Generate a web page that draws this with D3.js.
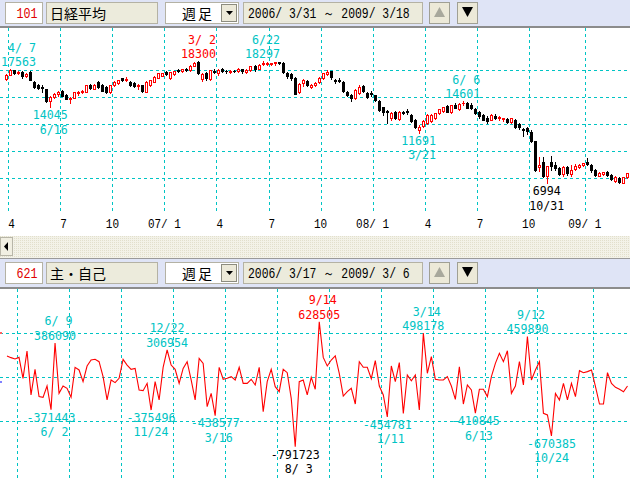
<!DOCTYPE html>
<html><head><meta charset="utf-8">
<script src="https://cdn.jsdelivr.net/npm/d3@7"></script>
<style>
body{margin:0;background:#fff;}
svg{display:block;}
text{white-space:pre;}
</style></head><body>
<svg id="c" width="630" height="478"></svg>
<script>
// ---------- DATA ----------
const topStart = "2006-03-31";
const flowStart = "2006-03-17";
const weekEndFix = {"2009-01-02": "2008-12-30"};

const open = [16650,17060,17470,17200,17330,16950,17290,16420,16150,15950,
15700,14600,15000,15250,15550,15200,14800,14950,15400,15450,
15500,16100,15750,16350,16100,15950,15450,16100,16270,16720,
16600,16420,16300,16000,16100,15500,16100,16420,16800,16950,
17350,16800,17100,17480,17450,17560,17500,17900,18200,16700,
17250,16650,17450,17250,17550,17400,17300,17420,17400,17550,
17350,17500,17900,17600,18050,18100,18100,18150,18250,18150,
17250,17100,16800,15500,16300,16500,15950,16100,16350,16800,
17150,17400,16550,16600,16400,15500,15200,14900,15400,16000,
15350,15350,15150,14600,14050,13700,13050,13650,12950,13600,
13700,13300,12900,11900,12300,12600,12800,13100,13500,13700,
14200,13600,14300,13900,14400,14450,14300,13900,13600,13300,
13100,12900,13200,13050,12950,13000,12650,12900,12500,12000,
12100,11800,10900,8500,9000,7650,8950,8700,8400,7900,
8500,7900,8300,8550,8700,9000,8750,8250,7700,7850,
8100,7800,7230,7500,7050,7550];
const high = [17120,17563,17500,17420,17380,17200,17400,16450,16250,16100,
15750,15100,15400,15550,15650,15300,15000,15500,15560,15650,
16150,16200,16200,16450,16200,16050,16150,16450,16600,16800,
16850,16500,16350,16250,16150,16450,16600,16950,17250,17250,
17400,17350,17400,17550,17600,17650,17950,18250,18300,17250,
17350,17500,17550,17550,17650,17500,17500,17500,17700,17600,
17550,17900,18000,18100,18297,18200,18160,18262,18270,18200,
17300,17200,16850,16300,16650,16600,16200,16400,16850,17250,
17488,17450,16700,16750,16450,15600,15250,15740,16100,16150,
15450,15600,15200,14700,14100,13800,13650,13750,13750,13750,
13900,13400,12950,12400,12900,13400,13400,13500,13900,14100,
14250,14300,14400,14450,14601,14500,14400,14000,13700,13400,
13200,13400,13400,13250,13100,13100,13100,13000,12550,12100,
12200,11900,10950,9447,9400,8600,9521,8950,8500,8600,
8600,8700,8800,8800,8900,9325,8800,8350,8100,8100,
8150,7850,7700,7600,7600,7970];
const low = [16560,17000,17150,17100,16750,16850,16550,15850,15700,15450,
14550,14045,14900,15100,15050,14800,14437,14900,15150,15350,
15450,15750,15700,15850,15550,15400,15400,16050,16200,16500,
16500,16050,15950,15750,15500,15450,16050,16350,16750,16900,
17000,16700,17000,17300,17350,17400,17450,17850,17100,16450,
16600,16600,17200,17050,17300,17200,17250,17300,17350,17200,
17250,17450,17450,17550,17950,18000,17950,18000,18050,17200,
16800,16600,15262,15400,16000,16000,15800,16000,16300,16700,
17050,16700,16300,16350,15500,15050,14669,14850,15300,15450,
14950,15100,14600,13700,13300,12572,12900,12950,12900,13400,
13400,12700,12100,11691,12200,12500,12700,13000,13400,13650,
13600,13500,13950,13800,14250,13950,13850,13450,13100,12850,
12600,12850,12950,12900,12800,12600,12550,12100,12000,11400,
11600,10800,8115,8115,7600,6994,8200,8200,7800,7700,
7800,7700,8200,8450,8650,8700,8100,7700,7650,7800,
7700,7350,7100,7050,7021,7500];
const close = [17059,17490,17233,17350,16906,17153,16601,15960,15810,15789,
14650,15000,15300,15505,15125,14845,14946,15456,15470,15565,
16100,15820,16100,15900,15600,15500,16100,16420,16580,16600,
16700,16110,16000,16150,15560,16400,16550,16880,17200,17225,
17091,17300,17371,17400,17547,17504,17900,18188,17217,17164,
16744,17480,17287,17490,17364,17372,17400,17394,17554,17399,
17480,17875,17631,18001,18188,18138,18140,18238,18157,17283,
16979,16764,15273,16248,16569,16122,16127,16312,16785,17199,
17332,16814,16505,16517,15583,15154,14888,15680,15956,15514,
15030,15307,14691,13764,13600,13629,13497,13017,13626,13500,
13603,12782,12241,12260,12820,13293,13323,13476,13863,14049,
13655,14219,14012,14338,14489,14021,13942,13544,13237,12900,
12760,13335,13094,13168,13020,12666,13072,12212,12214,11920,
11893,10938,8276,8693,7649,8576,8583,8462,7910,8512,
7917,8235,8588,8740,8859,8836,8230,7745,7994,8076,
7779,7416,7568,7173,7569,7945];

const flow = [239000,220000,205000,223000,-15000,295000,-204000,87000,-223000,-231000,
-102000,-371443,386090,-186000,-102000,-129000,-231000,110000,80000,-53000,
125000,193000,201000,174000,4000,-261000,-34000,-64000,-15000,201000,
136000,87000,98000,-148000,-155000,-72000,-375496,-53000,-261000,110000,
306954,136000,87000,-72000,98000,174000,-34000,-261000,212000,155000,
-337000,-186000,-438577,110000,-26000,-15000,4000,-34000,110000,-72000,
-72000,-26000,-91000,110000,-394000,-53000,87000,-110000,-167000,87000,
49000,-242000,-791723,-53000,-34000,-204000,-4000,-140000,628505,223000,
125000,193000,239000,42000,-216000,-167000,-129000,-307000,174000,110000,
110000,-19000,186000,-102000,-204000,-454781,125000,-53000,163000,-413000,
23000,-42000,23000,-375000,498178,42000,231000,-26000,-34000,-34000,
4000,-102000,-254000,117000,-307000,-91000,-148000,-410845,-140000,-140000,
-223000,4000,155000,269000,174000,299000,-186000,-102000,174000,-91000,
459890,-34000,80000,174000,-413000,-432000,-670385,-186000,-261000,-72000,
-261000,-72000,-223000,72000,49000,61000,80000,-110000,-307000,-307000,
49000,-72000,-117000,-140000,-167000,-102000];

const topHighMarks = [1,48,64,114];
const topLowMarks = [11,103,135];
const flowHighMarks = [12,40,78,104,130];
const flowLowMarks = [11,36,52,72,95,117,136];
const priceGrid = [17500,15000,12500,10000,7500];
const flowGrid = [500000,0,-500000];
const quarterMonths = [0,3,6,9];
const topHeader = {code:"101", name:"日経平均", span:"週足", range:"2006/ 3/31 ～ 2009/ 3/18"};
const botHeader = {code:"621", name:"主・自己", span:"週足", range:"2006/ 3/17 ～ 2009/ 3/ 6"};

// ---------- SETUP ----------
const svg = d3.select("#c");
const MONO = "'Liberation Mono','DejaVu Sans Mono',monospace";
const AMONO = "'DejaVu Sans Mono','Liberation Mono',monospace";
const JP = "'Noto Sans CJK JP','Noto Sans CJK SC',sans-serif";
const CYAN = "#00c4c4", RED = "#ff0000";
const parse = d3.utcParse("%Y-%m-%d"), fmt = d3.utcFormat("%Y-%m-%d");
function weekDates(start, n){
  return d3.range(n).map(i=>{
    const d = d3.utcDay.offset(parse(start), 7*i);
    const f = weekEndFix[fmt(d)];
    return f ? parse(f) : d;
  });
}
const topDates = weekDates(topStart, close.length);
const flowDates = weekDates(flowStart, flow.length);
const pad2 = n => (n<10?" ":"")+n;
const mdLabel = d => pad2(d.getUTCMonth()+1)+"/"+pad2(d.getUTCDate());

function mono(g, str, left, base, color, cw, size, family){
  const lead = str.length - str.replace(/^ +/,"").length;
  const t = str.trim();
  g.append("text").attr("x", left+lead*cw).attr("y", base)
   .attr("textLength", t.length*cw).attr("lengthAdjust","spacingAndGlyphs")
   .style("font-family", family||MONO).style("font-size", size+"px").attr("fill", color).text(t);
}

// ---------- BACKGROUND ----------
svg.append("rect").attr("width",630).attr("height",478).attr("fill","#fff");

function header(y0, h){
  const g = svg.append("g").attr("transform",`translate(0,${y0})`);
  g.append("rect").attr("width",630).attr("height",28).attr("fill","#dfe4f6");
  const box=(x,w,fill)=>{
    g.append("rect").attr("x",x+0.5).attr("y",3.5).attr("width",w).attr("height",21)
     .attr("fill",fill).attr("stroke","#b4b2a4");
  };
  box(5,37,"#fff");
  mono(g, h.code, 16.5, 19, "#e00000", 7, 14);
  box(46,111,"#ecebdc");
  g.append("text").attr("x",50).attr("y",19.5).style("font-family",JP).style("font-size","14px").attr("fill","#000").text(h.name);
  box(165,73,"#fff");
  g.append("text").attr("x",182).attr("y",19.5).style("font-family",JP).style("font-size","14px").style("letter-spacing","2px").attr("fill","#000").text(h.span);
  g.append("rect").attr("x",221.5).attr("y",5.5).attr("width",15).attr("height",17).attr("fill","#ece9d8").attr("stroke","#8c8c80");
  g.append("path").attr("d","M226,12 L233,12 L229.5,16 Z").attr("fill","#000");
  box(243,179,"#ecebdc");
  mono(g, h.range, 248, 19, "#000", 7.03, 14);
  g.append("rect").attr("x",429.5).attr("y",3.5).attr("width",20).attr("height",21).attr("fill","#ece9d8").attr("stroke","#a0a094");
  g.append("path").attr("d","M434,18 L445,18 L439.5,8 Z").attr("fill","#a8a89c");
  g.append("rect").attr("x",457.5).attr("y",3.5).attr("width",20).attr("height",21).attr("fill","#ece9d8").attr("stroke","#a0a094");
  g.append("path").attr("d","M462,8 L473,8 L467.5,18 Z").attr("fill","#000");
  return g;
}
header(-1, topHeader);
svg.append("rect").attr("x",0).attr("y",26).attr("width",630).attr("height",2).attr("fill","#8c8c8c");

// scrollbar strip
const defs = svg.append("defs");
const pat = defs.append("pattern").attr("id","dots").attr("width",2).attr("height",2).attr("patternUnits","userSpaceOnUse");
pat.append("rect").attr("width",2).attr("height",2).attr("fill","#f3f2e8");
pat.append("rect").attr("width",1).attr("height",1).attr("fill","#e2dfcc");
svg.append("rect").attr("x",0).attr("y",236).attr("width",630).attr("height",22).attr("fill","url(#dots)");
svg.append("rect").attr("x",0.5).attr("y",237.5).attr("width",12).attr("height",18).attr("fill","#f1efe2").attr("stroke","#b8b6a8");
svg.append("path").attr("d","M4,246.5 L8,242 L8,251 Z").attr("fill","#000");

svg.append("rect").attr("x",0).attr("y",258).attr("width",630).attr("height",1).attr("fill","#9a9a9a");
header(259, botHeader);
svg.append("rect").attr("x",0).attr("y",287).attr("width",630).attr("height",2).attr("fill","#8c8c8c");

// ---------- TOP PANEL ----------
const xTop = d3.scaleLinear().domain([0,155]).range([6.3,626.8]);
const yTop = d3.scaleLinear().domain([7500,17500]).range([178,70]);
const step = xTop(1)-xTop(0);
const gTop = svg.append("g");
const DASH = "3,3";

function quarterLines(dates, xs){
  const out=[];
  for(let i=1;i<dates.length;i++){
    const m = dates[i].getUTCMonth();
    if(m!==dates[i-1].getUTCMonth() && quarterMonths.includes(m)){
      out.push({x: xs(i)-step/2, label: m===0 ? d3.utcFormat("%y")(dates[i])+"/ 1" : pad2(m+1)});
    }
  }
  return out;
}
const qTop = quarterLines(topDates, xTop);
gTop.selectAll(".vg").data(qTop).join("line")
  .attr("x1",d=>Math.round(d.x)+0.5).attr("x2",d=>Math.round(d.x)+0.5)
  .attr("y1",28).attr("y2",214).attr("stroke",CYAN).attr("stroke-dasharray",DASH);
gTop.selectAll(".hg").data(priceGrid).join("line")
  .attr("x1",0).attr("x2",630).attr("y1",d=>Math.round(yTop(d))+0.5).attr("y2",d=>Math.round(yTop(d))+0.5)
  .attr("stroke",CYAN).attr("stroke-dasharray",DASH);
qTop.forEach(d=>{
  const w = d.label.length*6.6;
  mono(gTop, d.label, Math.max(1, d.x - w/2), 228, "#000", 6.6, 13);
});

// candles
const candles = gTop.append("g").attr("shape-rendering","crispEdges");
d3.range(close.length).forEach(i=>{
  const cx = Math.round(xTop(i));
  const up = close[i] >= open[i];
  const col = up ? RED : "#000";
  candles.append("line").attr("x1",cx+0.5).attr("x2",cx+0.5)
    .attr("y1",Math.round(yTop(high[i]))).attr("y2",Math.round(yTop(low[i]))+1).attr("stroke",col);
  const t = Math.round(yTop(Math.max(open[i],close[i])));
  const b = Math.round(yTop(Math.min(open[i],close[i])));
  if(b-t < 2){
    candles.append("rect").attr("x",cx-1).attr("y",t).attr("width",3).attr("height",Math.max(1,b-t+1)).attr("fill",col);
  } else if(up){
    candles.append("rect").attr("x",cx-0.5).attr("y",t+0.5).attr("width",2).attr("height",b-t).attr("fill","#fff").attr("stroke",RED);
  } else {
    candles.append("rect").attr("x",cx-1).attr("y",t).attr("width",3).attr("height",b-t+1).attr("fill","#000");
  }
});

function annotate(g, cx, py, valStr, dateStr, color, above){
  const cw=7;
  [[valStr, above? py-7.5 : py+7.5],[dateStr, above? py-22 : py+22]].forEach(([s,yc])=>{
    const w = s.length*cw;
    const left = Math.min(629-w, Math.max(1, cx - w/2));
    mono(g, s, left, yc+4.4, color, cw, 12, AMONO);
  });
}
const maxH = d3.max(high), minL = d3.min(low);
topHighMarks.forEach(i=>annotate(gTop, xTop(i), yTop(high[i]), String(high[i]), mdLabel(topDates[i]), high[i]===maxH?RED:CYAN, true));
topLowMarks.forEach(i=>annotate(gTop, xTop(i), yTop(low[i]), String(low[i]), mdLabel(topDates[i]), low[i]===minL?"#000":CYAN, false));

// ---------- BOTTOM PANEL ----------
const xBot = d3.scaleLinear().domain([0,155]).range([7,627.5]);
const yBot = d3.scaleLinear().domain([-500000,500000]).range([421,333]);
const gBot = svg.append("g");
const qBot = quarterLines(flowDates, xBot);
gBot.selectAll(".vg").data(qBot).join("line")
  .attr("x1",d=>Math.round(d.x)+0.5).attr("x2",d=>Math.round(d.x)+0.5)
  .attr("y1",289).attr("y2",478).attr("stroke",CYAN).attr("stroke-dasharray",DASH);
gBot.selectAll(".hg").data(flowGrid).join("line")
  .attr("x1",0).attr("x2",630).attr("y1",d=>Math.round(yBot(d))+0.5).attr("y2",d=>Math.round(yBot(d))+0.5)
  .attr("stroke",CYAN).attr("stroke-dasharray",DASH);
gBot.append("rect").attr("x",0).attr("y",Math.round(yBot(500000))-1).attr("width",2).attr("height",2).attr("fill","#ff6060");
gBot.append("rect").attr("x",0).attr("y",Math.round(yBot(0))+4).attr("width",2).attr("height",2).attr("fill","#8080ff");

const line = d3.line().x((d,i)=>xBot(i)).y(d=>yBot(d));
gBot.append("path").datum(flow).attr("d",line).attr("fill","none").attr("stroke",RED).attr("stroke-width",1.1);

const maxF = d3.max(flow), minF = d3.min(flow);
flowHighMarks.forEach(i=>annotate(gBot, xBot(i), yBot(flow[i]), String(flow[i]), mdLabel(flowDates[i]), flow[i]===maxF?RED:CYAN, true));
flowLowMarks.forEach(i=>annotate(gBot, xBot(i), yBot(flow[i]), String(flow[i]), mdLabel(flowDates[i]), flow[i]===minF?"#000":CYAN, false));
</script>
</body></html>
